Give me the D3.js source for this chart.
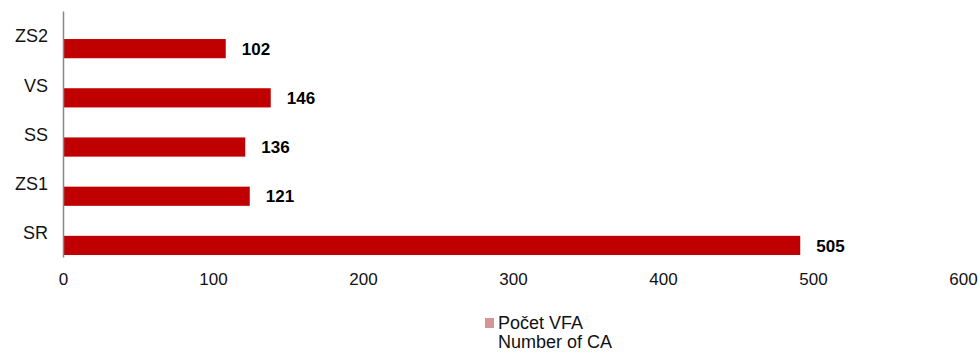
<!DOCTYPE html>
<html>
<head>
<meta charset="utf-8">
<script src="https://cdn.jsdelivr.net/npm/d3@7"></script>
<style>
  body { margin: 0; background: #fff; }
  svg text { font-family: "Liberation Sans", Arial, sans-serif; }
</style>
</head>
<body>
<script>
// categories top to bottom
var categories = ["ZS2", "VS", "SS", "ZS1", "SR"];
// bar lengths as drawn in the picture
var barValues = [108.5, 138.5, 121.5, 124.5, 491.5];
// data labels printed next to the bars
var valueLabels = ["102", "146", "136", "121", "505"];
var xTicks = [0, 100, 200, 300, 400, 500, 600];
var legendLines = ["Počet VFA", "Number of CA"];

var data = categories.map(function(c, i) {
  return { cat: c, value: barValues[i], label: valueLabels[i] };
});

var width = 980, height = 353;
var margin = { top: 11, left: 63, right: 17, bottom: 96 };

var svg = d3.select("body").append("svg")
  .attr("width", width)
  .attr("height", height);

var x = d3.scaleLinear()
  .domain([0, 600])
  .range([margin.left, width - margin.right]);

var y = d3.scaleBand()
  .domain(categories)
  .range([margin.top, height - margin.bottom]);

var bw = y.bandwidth();

//bars sit in the lower part of each band
svg.selectAll(".bar")
  .data(data)
  .enter().append("rect")
  .attr("class", "bar")
  .attr("x", x(0))
  .attr("y", function(d) { return y(d.cat) + bw * 0.57; })
  .attr("width", function(d) { return x(d.value) - x(0); })
  .attr("height", bw * 0.39)
  .style("fill", "#c00000");

//value labels
svg.selectAll(".vlabel")
  .data(data)
  .enter().append("text")
  .attr("class", "vlabel")
  .attr("x", function(d) { return x(d.value) + 16; })
  .attr("y", function(d) { return y(d.cat) + bw * 0.57 + bw * 0.195; })
  .attr("dy", "0.36em")
  .style("font-size", "17px")
  .style("font-weight", "bold")
  .style("fill", "#000")
  .text(function(d) { return d.label; });

//x axis, labels only
var xAxis = d3.axisBottom(x).tickValues(xTicks).tickSize(0).tickPadding(16);
var gx = svg.append("g")
  .attr("transform", "translate(0," + (height - margin.bottom) + ")")
  .call(xAxis);
gx.select(".domain").remove();
gx.selectAll("text")
  .style("font-size", "17px")
  .style("font-family", "Liberation Sans, Arial, sans-serif")
  .style("fill", "#111");

//y axis with grey line
var yAxis = d3.axisLeft(y).tickSize(0).tickSizeOuter(0).tickPadding(15);
var gy = svg.append("g")
  .attr("transform", "translate(" + x(0) + ",0)")
  .call(yAxis);
gy.select(".domain")
  .attr("stroke", "#898989")
  .attr("stroke-width", 1.5);
gy.selectAll("text")
  .attr("dy", "0.38em")
  .style("font-size", "18px")
  .style("font-family", "Liberation Sans, Arial, sans-serif")
  .style("fill", "#111");

//legend
var legend = svg.append("g").attr("transform", "translate(485,318)");
legend.append("rect")
  .attr("width", 9)
  .attr("height", 10)
  .style("fill", "#d69597");
legend.selectAll("text")
  .data(legendLines)
  .enter().append("text")
  .attr("x", 13)
  .attr("y", function(d, i) { return 5 + i * 19; })
  .attr("dy", "0.36em")
  .style("font-size", "18px")
  .style("fill", "#111")
  .text(function(d) { return d; });
</script>
</body>
</html>
